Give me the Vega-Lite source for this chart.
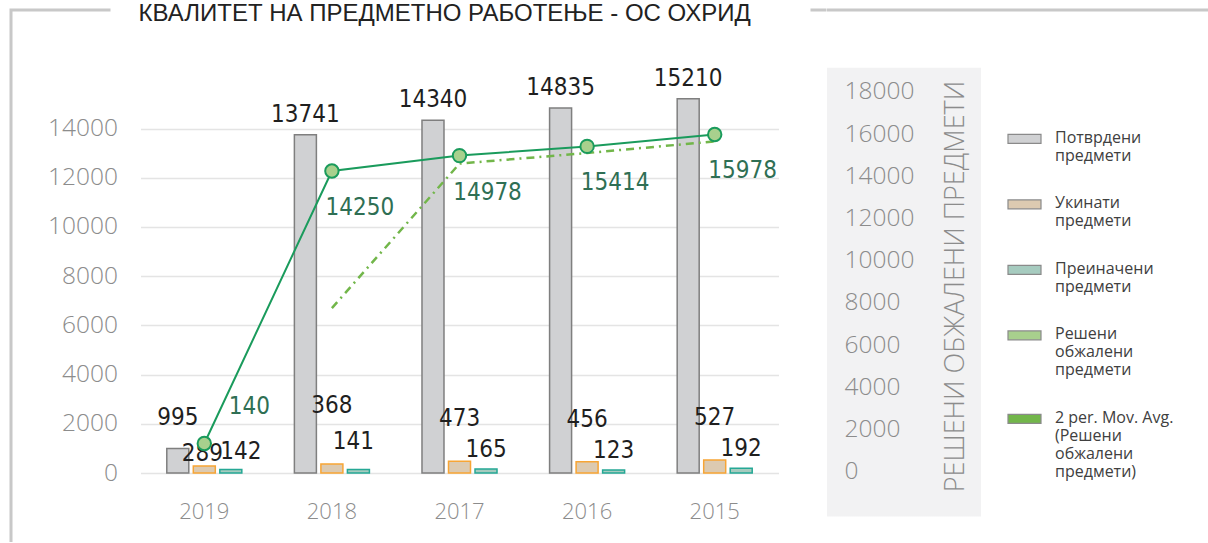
{
  "$schema": "https://vega.github.io/schema/vega-lite/v6.json",
  "background": "white",
  "padding": {"left": 9, "top": 0, "right": 0, "bottom": 0},
  "bounds": "flush",
  "spacing": 0,
  "config": {"view": {"stroke": null}, "font": "Open Sans"},
  "datasets": {
    "bars": [
      {"year": "2019", "series": "Потврдени предмети", "value": 995},
      {"year": "2018", "series": "Потврдени предмети", "value": 13741},
      {"year": "2017", "series": "Потврдени предмети", "value": 14340},
      {"year": "2016", "series": "Потврдени предмети", "value": 14835},
      {"year": "2015", "series": "Потврдени предмети", "value": 15210},
      {"year": "2019", "series": "Укинати предмети", "value": 289},
      {"year": "2018", "series": "Укинати предмети", "value": 368},
      {"year": "2017", "series": "Укинати предмети", "value": 473},
      {"year": "2016", "series": "Укинати предмети", "value": 456},
      {"year": "2015", "series": "Укинати предмети", "value": 527},
      {"year": "2019", "series": "Преиначени предмети", "value": 142},
      {"year": "2018", "series": "Преиначени предмети", "value": 141},
      {"year": "2017", "series": "Преиначени предмети", "value": 165},
      {"year": "2016", "series": "Преиначени предмети", "value": 123},
      {"year": "2015", "series": "Преиначени предмети", "value": 192}
    ],
    "line": [
      {"year": "2019", "value": 1340, "label": "140"},
      {"year": "2018", "value": 14250, "label": "14250"},
      {"year": "2017", "value": 14978, "label": "14978"},
      {"year": "2016", "value": 15414, "label": "15414"},
      {"year": "2015", "value": 15978, "label": "15978"}
    ],
    "ma": [
      {"year": "2018", "value": 7750},
      {"year": "2017", "value": 14600},
      {"year": "2016", "value": 15100},
      {"year": "2015", "value": 15650}
    ]
  },
  "hconcat": [
    {
      "width": 815.5,
      "height": 532,
      "view": {"stroke": "#c8c8c8", "strokeWidth": 3, "strokeDash": [99.5, 700, 16, 1347.5, 532], "fill": null},
      "title": {
        "text": "КВАЛИТЕТ НА ПРЕДМЕТНО РАБОТЕЊЕ - ОС ОХРИД",
        "anchor": "start",
        "orient": "top",
        "frame": "group",
        "offset": -11.5,
        "dx": 127.5,
        "dy": 23,
        "baseline": "alphabetic",
        "font": "Liberation Sans, sans-serif",
        "fontSize": 24,
        "fontWeight": "normal",
        "color": "#222222"
      },
      "layer": [
        {
          "data": {"name": "bars"},
          "encoding": {
            "x": {
              "field": "year", "type": "nominal",
              "sort": ["2019", "2018", "2017", "2016", "2015"],
              "scale": {"range": [129.5, 767.5], "paddingInner": 0.412, "paddingOuter": 0.206},
              "axis": {
                "orient": "bottom", "offset": -69, "title": null, "domain": false, "ticks": false,
                "labelPadding": 28, "labelFontSize": 22, "labelColor": "#8c8c8c",
                "labelFont": "Open Sans", "labelFontWeight": 300, "grid": false, "labelAngle": 0
              }
            },
            "xOffset": {
              "field": "series", "type": "nominal",
              "sort": ["Потврдени предмети", "Укинати предмети", "Преиначени предмети"],
              "scale": {"paddingInner": 0.17, "paddingOuter": 0}
            },
            "y": {
              "field": "value", "type": "quantitative",
              "scale": {"domain": [0, 14000], "range": [463, 118.5], "nice": false, "zero": true},
              "axis": {
                "orient": "left", "offset": -129.5, "title": null, "domain": false, "ticks": false, "tickSize": 0,
                "labelPadding": 23, "values": [0, 2000, 4000, 6000, 8000, 10000, 12000, 14000],
                "labelFontSize": 24.5, "labelColor": "#8c8c8c", "labelFont": "Open Sans", "labelFontWeight": 300,
                "grid": true, "gridColor": "#e4e4e4", "gridWidth": 1.5, "format": "d"
              }
            },
            "text": {"field": "value", "type": "quantitative", "format": "d"}
          },
          "layer": [
            {
              "mark": {"type": "bar", "strokeWidth": 1.5},
              "encoding": {
                "color": {
                  "field": "series", "type": "nominal",
                  "scale": {
                    "domain": ["Потврдени предмети", "Укинати предмети", "Преиначени предмети", "Решени обжалени предмети", "2 per. Mov. Avg. (Решени обжалени предмети)"],
                    "range": ["#d0d1d3", "#dccab1", "#a6cbbf", "#a8d08d", "#72b64a"]
                  },
                  "legend": {
                    "orient": "none", "legendX": 996, "legendY": 102, "title": null, "padding": 0,
                    "symbolSize": 1089, "symbolType": "M-1,0.3H1V0.84H-1Z",
                    "symbolStrokeColor": "#8a8a8a", "symbolStrokeWidth": 1.2, "symbolOpacity": 1,
                    "labelOffset": 13, "labelFont": "Open Sans", "labelFontSize": 16,
                    "labelColor": "#404040", "labelLimit": 400, "rowPadding": 13.5, "labelBaseline": "top",
                    "labelExpr": "indexof(datum.label, 'Avg') >= 0 ? ['2 per. Mov. Avg.', '(Решени', 'обжалени', 'предмети)'] : split(datum.label, ' ')",
                    "encode": {"labels": {"lineHeight": {"value": 21}}}
                  }
                },
                "stroke": {
                  "field": "series", "type": "nominal",
                  "scale": {"domain": ["Потврдени предмети", "Укинати предмети", "Преиначени предмети"], "range": ["#7f7f7f", "#f7a535", "#25a895"]},
                  "legend": null
                }
              }
            },
            {
              "transform": [{"filter": "datum.series == 'Потврдени предмети' && datum.year != '2019'"}],
              "mark": {"type": "text", "dy": -13, "baseline": "alphabetic", "font": "Liberation Sans Narrow, DejaVu Sans Condensed, sans-serif", "fontSize": 24, "color": "#1f1f1f"}
            },
            {
              "transform": [{"filter": "datum.series == 'Потврдени предмети' && datum.year == '2019'"}],
              "mark": {"type": "text", "dy": -24, "baseline": "alphabetic", "font": "Liberation Sans Narrow, DejaVu Sans Condensed, sans-serif", "fontSize": 24, "color": "#1f1f1f"}
            },
            {
              "transform": [{"filter": "datum.series == 'Преиначени предмети' && datum.year != '2018' && datum.year != '2019'"}],
              "mark": {"type": "text", "dy": -12, "baseline": "alphabetic", "font": "Liberation Sans Narrow, DejaVu Sans Condensed, sans-serif", "fontSize": 24, "color": "#1f1f1f"}
            },
            {
              "transform": [{"filter": "datum.series == 'Преиначени предмети' && datum.year == '2019'"}],
              "mark": {"type": "text", "dy": -11, "dx": 10, "baseline": "alphabetic", "font": "Liberation Sans Narrow, DejaVu Sans Condensed, sans-serif", "fontSize": 24, "color": "#1f1f1f"}
            },
            {
              "transform": [{"filter": "datum.series == 'Преиначени предмети' && datum.year == '2018'"}],
              "mark": {"type": "text", "dy": -21, "dx": -5, "baseline": "alphabetic", "font": "Liberation Sans Narrow, DejaVu Sans Condensed, sans-serif", "fontSize": 24, "color": "#1f1f1f"}
            },
            {
              "transform": [{"filter": "datum.series == 'Укинати предмети' && datum.year != '2019' && datum.year != '2018'"}],
              "mark": {"type": "text", "dy": -35, "baseline": "alphabetic", "font": "Liberation Sans Narrow, DejaVu Sans Condensed, sans-serif", "fontSize": 24, "color": "#1f1f1f"}
            },
            {
              "transform": [{"filter": "datum.series == 'Укинати предмети' && datum.year == '2019'"}],
              "mark": {"type": "text", "dy": -5, "dx": -2, "baseline": "alphabetic", "font": "Liberation Sans Narrow, DejaVu Sans Condensed, sans-serif", "fontSize": 24, "color": "#1f1f1f"}
            },
            {
              "transform": [{"filter": "datum.series == 'Укинати предмети' && datum.year == '2018'"}],
              "mark": {"type": "text", "dy": -51, "baseline": "alphabetic", "font": "Liberation Sans Narrow, DejaVu Sans Condensed, sans-serif", "fontSize": 24, "color": "#1f1f1f"}
            }
          ]
        },
        {
          "encoding": {
            "x": {"field": "year", "type": "nominal", "sort": ["2019", "2018", "2017", "2016", "2015"]},
            "y": {"field": "value", "type": "quantitative", "scale": {"domain": [0, 18000], "range": [461.8, 81.8], "nice": false}, "axis": null}
          },
          "layer": [
            {"data": {"name": "ma"}, "mark": {"type": "line", "strokeDash": [8, 5, 2, 5], "color": "#72b64a", "strokeWidth": 2.5}},
            {"data": {"name": "line"}, "mark": {"type": "line", "color": "#1a9b5c", "strokeWidth": 2}},
            {"data": {"name": "line"}, "mark": {"type": "point", "filled": true, "size": 180, "fill": "#a8d08d", "stroke": "#1a9b5c", "strokeWidth": 2, "opacity": 1}},
            {
              "data": {"name": "line"},
              "transform": [{"filter": "datum.year != '2019'"}],
              "mark": {"type": "text", "dx": 28, "dy": 37, "baseline": "middle", "font": "Liberation Sans Narrow, DejaVu Sans Condensed, sans-serif", "fontSize": 24, "color": "#2f6f54"},
              "encoding": {"text": {"field": "label", "type": "nominal"}}
            },
            {
              "data": {"name": "line"},
              "transform": [{"filter": "datum.year == '2019'"}],
              "mark": {"type": "text", "dx": 45, "dy": -37, "baseline": "middle", "font": "Liberation Sans Narrow, DejaVu Sans Condensed, sans-serif", "fontSize": 24, "color": "#2f6f54"},
              "encoding": {"text": {"field": "label", "type": "nominal"}}
            }
          ]
        }
      ],
      "resolve": {"scale": {"y": "independent"}}
    },
    {
      "width": 154,
      "height": 506.5,
      "view": {
        "fill": {"gradient": "linear", "x1": 0, "y1": 0, "x2": 0, "y2": 1, "stops": [
          {"offset": 0, "color": "#ffffff"},
          {"offset": 0.1135, "color": "#ffffff"},
          {"offset": 0.1136, "color": "#f2f2f3"},
          {"offset": 1, "color": "#f2f2f3"}
        ]},
        "stroke": "#c8c8c8", "strokeWidth": 3, "strokeDash": [154, 2000]
      },
      "data": {"name": "line"},
      "mark": {"type": "point", "opacity": 0},
      "encoding": {
        "y": {
          "field": "value", "type": "quantitative",
          "scale": {"domain": [0, 18000], "range": [461.8, 81.8], "nice": false},
          "axis": {
            "orient": "right", "offset": -137, "title": "РЕШЕНИ ОБЖАЛЕНИ ПРЕДМЕТИ",
            "titleAngle": 270, "titleX": 119, "titleY": 276, "titleAlign": "center", "titleBaseline": "alphabetic",
            "titleFont": "Open Sans", "titleFontWeight": 300, "titleFontSize": 27, "titleColor": "#8c8c8c",
            "values": [0, 2000, 4000, 6000, 8000, 10000, 12000, 14000, 16000, 18000],
            "domain": false, "ticks": false, "tickSize": 0, "labelPadding": 0,
            "labelFont": "Open Sans", "labelFontWeight": 300, "labelFontSize": 24.5, "labelColor": "#8c8c8c",
            "grid": false, "format": "d"
          }
        }
      }
    },
    {
      "width": 240,
      "height": 1,
      "view": {"stroke": "#c8c8c8", "strokeWidth": 3, "strokeDash": [240, 2000], "fill": null},
      "data": {"values": [{"k": 0}]},
      "mark": {"type": "point", "opacity": 0},
      "encoding": {}
    }
  ]
}
